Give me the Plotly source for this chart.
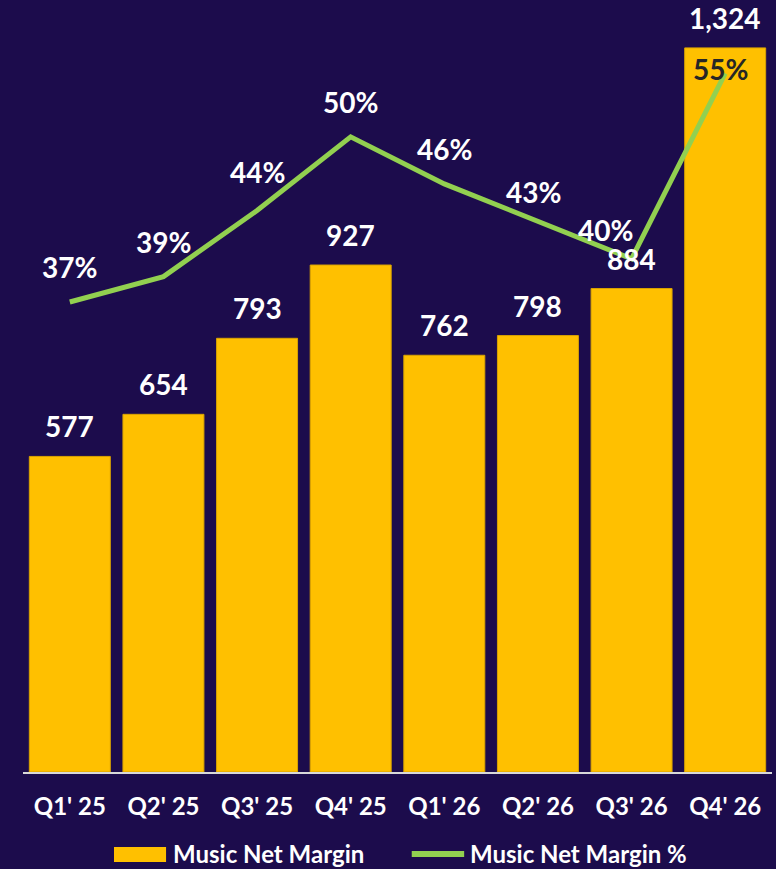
import plotly.graph_objects as go

BG = "#1C0C4C"
GOLD = "#FFC000"
GREEN = "#92D050"
FONT = "Lato, 'Open Sans', Arial"

quarters = ["Q1' 25", "Q2' 25", "Q3' 25", "Q4' 25", "Q1' 26", "Q2' 26", "Q3' 26", "Q4' 26"]
net_margin = [577, 654, 793, 927, 762, 798, 884, 1324]
margin_pct = [37.0, 39.0, 44.2, 50.0, 46.3, 43.4, 40.4, 55.0]

# label tweaks (pixel offsets) for the % labels, copied from the slide
pct_dx = [0, 0, 0, 0, 0, -4, -26, -5]
pct_dy = [35, 35, 39, 35, 35, 29, 29, 4]
pct_color = ["#FFFFFF"] * 7 + ["#262626"]

fig = go.Figure()
fig.add_trace(go.Bar(x=quarters, y=net_margin, name="Music Net Margin",
                     marker=dict(color=GOLD, line=dict(color="#D9A300", width=1)),
                     showlegend=False, yaxis="y"))
fig.add_trace(go.Scatter(x=quarters, y=margin_pct, name="Music Net Margin %", mode="lines",
                         line=dict(color=GREEN, width=5), showlegend=False, yaxis="y2"))

for q, v in zip(quarters, net_margin):
    fig.add_annotation(x=q, y=v, yref="y", text=f"<b>{v:,}</b>", showarrow=False,
                       yshift=30, font=dict(size=28, color="#FFFFFF", family=FONT))
for q, v, dx, dy, c in zip(quarters, margin_pct, pct_dx, pct_dy, pct_color):
    fig.add_annotation(x=q, y=v, yref="y2", text=f"<b>{v:.0f}%</b>", showarrow=False,
                       xshift=dx, yshift=dy, font=dict(size=28, color=c, family=FONT))

# legend drawn by hand (wide swatches like the slide)
fig.add_shape(type="rect", xref="paper", yref="paper", x0=0.1215, x1=0.191, y0=-0.1197, y1=-0.0997,
              fillcolor=GOLD, line=dict(width=0))
fig.add_annotation(xref="paper", yref="paper", x=0.197, y=-0.109, xanchor="left", yanchor="middle",
                   text="<b>Music Net Margin</b>", showarrow=False, font=dict(size=24, color="#FFFFFF", family=FONT))
fig.add_shape(type="line", xref="paper", yref="paper", x0=0.519, x1=0.589, y0=-0.109, y1=-0.109,
              line=dict(color=GREEN, width=6))
fig.add_annotation(xref="paper", yref="paper", x=0.5945, y=-0.109, xanchor="left", yanchor="middle",
                   text="<b>Music Net Margin %</b>", showarrow=False, font=dict(size=24, color="#FFFFFF", family=FONT))

fig.update_layout(
    width=776, height=869,
    paper_bgcolor=BG, plot_bgcolor=BG,
    margin=dict(l=23, r=4, t=20, b=97),
    font=dict(family=FONT, color="#FFFFFF"),
    bargap=0.135,
    xaxis=dict(showgrid=False, showline=True, linecolor="#D9D9D9", linewidth=2, ticks="",
               tickfont=dict(size=24, color="#FFFFFF", family=FONT), ticklabelstandoff=12,
               tickprefix="<b>", ticksuffix="</b>"),
    yaxis=dict(range=[0, 1375], visible=False, showgrid=False, zeroline=False),
    yaxis2=dict(range=[0, 59.2], visible=False, overlaying="y", showgrid=False, zeroline=False),
)
fig.write_html("out.html", config={"displayModeBar": False},
               post_script="document.body.style.margin='0';")
